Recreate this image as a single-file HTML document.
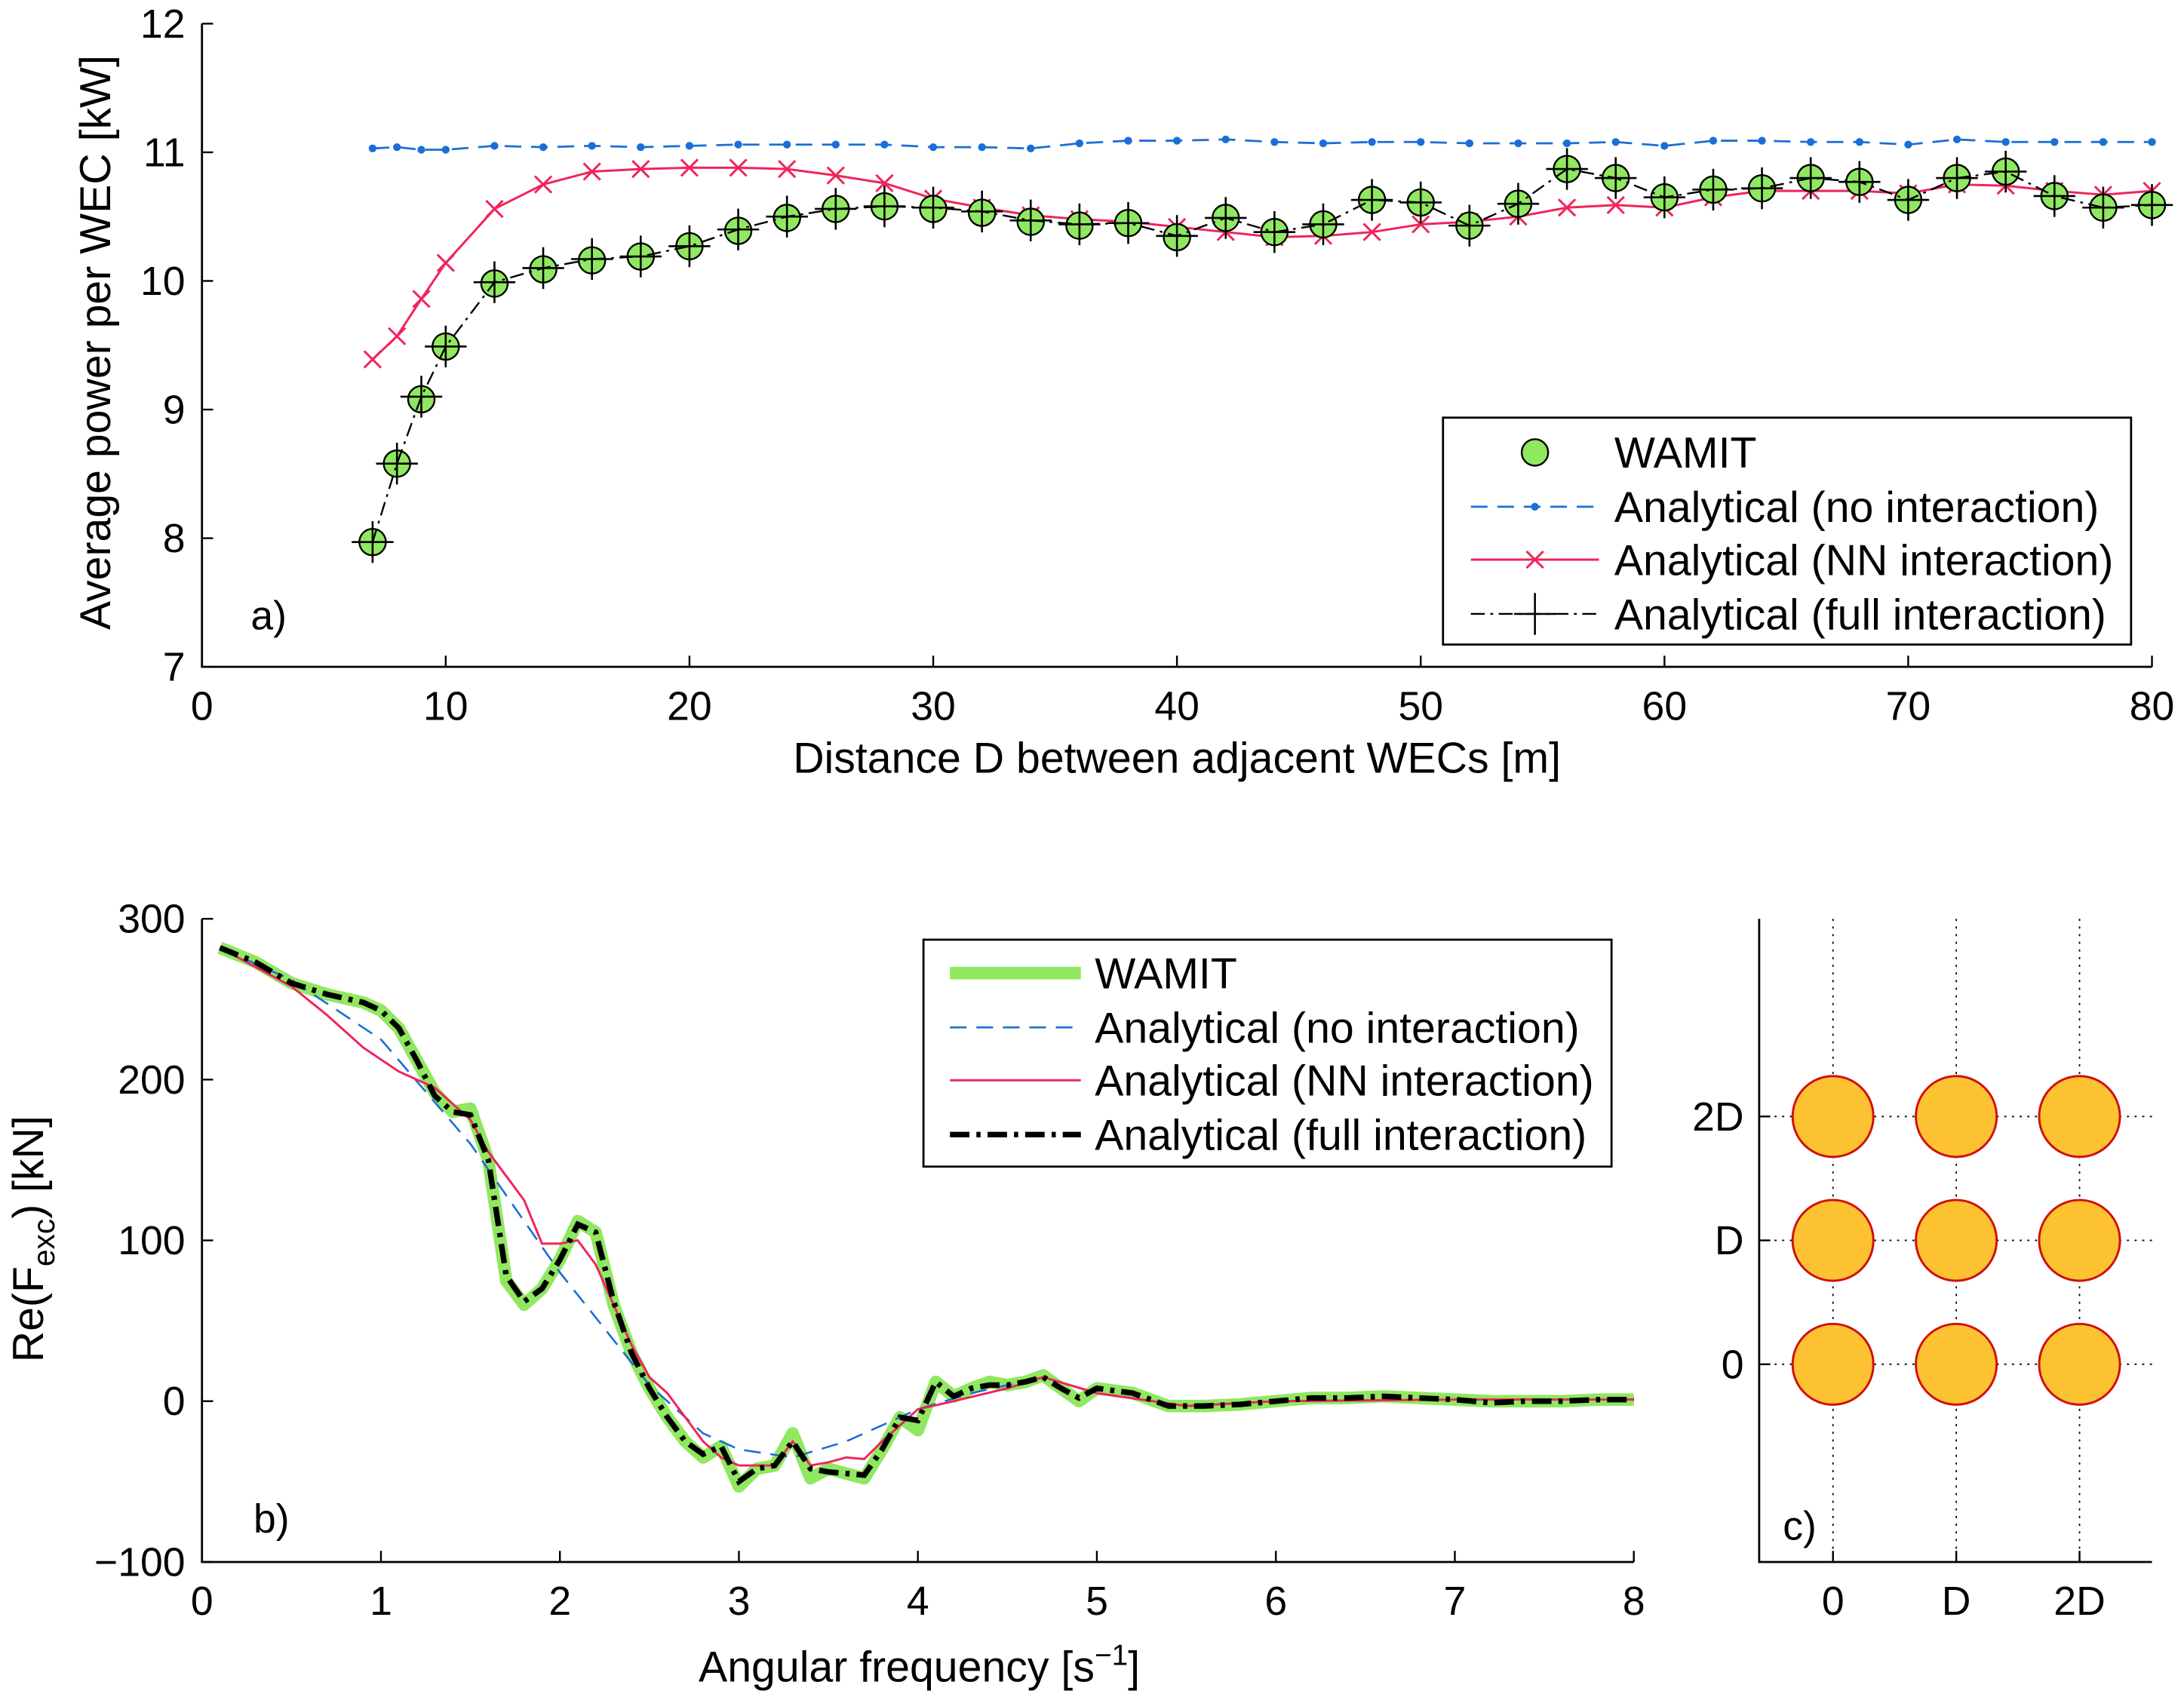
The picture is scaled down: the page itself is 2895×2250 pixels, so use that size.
<!DOCTYPE html>
<html><head><meta charset="utf-8"><style>
html,body{margin:0;padding:0;background:#fff}
svg{display:block}
text{font-family:"Liberation Sans",sans-serif;fill:#000}
</style></head><body>
<svg id="fig" width="2895" height="2250" viewBox="0 0 1568 1219" preserveAspectRatio="none" xmlns="http://www.w3.org/2000/svg">
<g id="pa"></g>
<g id="pb"></g>
<g id="pc"></g>
</svg>
<script>
// Panel a data
const aX = [7,8,9,10,12,14,16,18,20,22,24,26,28,30,32,34,36,38,40,42,44,46,48,50,52,54,56,58,60,62,64,66,68,70,72,74,76,78,80];
const aWamit = [7.97,8.58,9.08,9.49,9.98,10.09,10.16,10.19,10.27,10.39,10.49,10.56,10.58,10.56,10.53,10.46,10.43,10.45,10.34,10.49,10.38,10.44,10.63,10.61,10.43,10.60,10.87,10.80,10.65,10.71,10.72,10.80,10.77,10.63,10.80,10.85,10.66,10.57,10.59];
const aFull = [7.97,8.58,9.10,9.49,9.99,10.10,10.17,10.19,10.27,10.40,10.50,10.56,10.58,10.57,10.54,10.47,10.44,10.45,10.35,10.49,10.38,10.44,10.63,10.61,10.43,10.60,10.87,10.80,10.65,10.71,10.72,10.80,10.77,10.63,10.80,10.85,10.66,10.57,10.59];
const aNo = [11.03,11.04,11.02,11.02,11.05,11.04,11.05,11.04,11.05,11.06,11.06,11.06,11.06,11.04,11.04,11.03,11.07,11.09,11.09,11.10,11.08,11.07,11.08,11.08,11.07,11.07,11.07,11.08,11.05,11.09,11.09,11.08,11.08,11.06,11.10,11.08,11.08,11.08,11.08];
const aNN = [9.39,9.57,9.86,10.14,10.56,10.75,10.85,10.87,10.88,10.88,10.87,10.82,10.76,10.64,10.57,10.51,10.48,10.46,10.42,10.38,10.34,10.35,10.38,10.44,10.46,10.50,10.57,10.59,10.57,10.65,10.70,10.70,10.70,10.68,10.75,10.74,10.70,10.67,10.70];
const aXTicks = [0,10,20,30,40,50,60,70,80];
const aYTicks = [7,8,9,10,11,12];
// Panel b data
const bWX = [0.1,0.3,0.5,0.7,0.9,1.0,1.1,1.2,1.3,1.4,1.5,1.6,1.7,1.8,1.9,2.0,2.1,2.2,2.3,2.4,2.5,2.6,2.7,2.8,2.9,3.0,3.1,3.2,3.3,3.4,3.5,3.6,3.7,3.8,3.9,4.0,4.1,4.2,4.3,4.4,4.5,4.6,4.7,4.8,4.9,5.0,5.2,5.4,5.6,5.8,6.0,6.2,6.4,6.6,6.8,7.0,7.2,7.4,7.6,7.8,8.0];
const bWamit = [282,273,260,253,248,243,232,212,192,180,182,150,75,60,70,88,112,105,60,30,8,-10,-25,-35,-28,-53,-42,-40,-20,-48,-42,-45,-48,-30,-10,-18,12,3,8,12,10,12,16,8,0,8,5,-3,-3,-2,0,2,2,3,2,1,0,0,0,1,1];
const bFull = [282,273,260,253,248,243,232,212,190,180,178,150,78,62,70,88,110,105,62,30,8,-10,-25,-33,-28,-50,-42,-40,-25,-42,-44,-45,-46,-30,-10,-12,12,3,8,10,10,12,15,8,2,8,5,-3,-3,-2,0,2,2,3,2,1,-1,0,0,1,1];
const bNoX = [0.1,0.5,1.0,1.5,2.0,2.5,2.8,3.0,3.3,3.6,4.0,4.3,4.7,5.0,5.5,6.0,7.0,8.0];
const bNo = [282,262,225,160,80,10,-20,-30,-35,-25,-5,5,15,5,-3,0,1,1];
const bNNX = [0.1,0.5,0.7,0.9,1.1,1.3,1.5,1.6,1.7,1.8,1.9,2.0,2.1,2.2,2.3,2.4,2.5,2.6,2.7,2.8,2.9,3.0,3.2,3.3,3.4,3.5,3.6,3.7,3.8,3.9,4.0,4.2,4.5,4.7,5.0,5.5,6.0,7.0,8.0];
const bNN = [282,258,240,220,205,195,175,155,140,125,98,98,100,85,60,35,15,5,-10,-25,-35,-40,-40,-25,-40,-38,-35,-36,-25,-15,-5,0,8,15,5,-3,0,1,1];
const bXTicks = [0,1,2,3,4,5,6,7,8];
const bYTicks = [-100,0,100,200,300];
// Panel c data
const cTicks = ['0','D','2D'];
const cPos = [0,1,2];

const FT=29, FL=31;
const NS='http://www.w3.org/2000/svg';
function mk(parent,tag,attrs,txt){const e=document.createElementNS(NS,tag);for(const k in attrs)e.setAttribute(k,attrs[k]);if(txt!==undefined)e.textContent=txt;parent.appendChild(e);return e;}
function pathD(xs,ys,sx,sy){return xs.map((x,i)=>(i?'L':'M')+sx(x).toFixed(2)+','+sy(ys[i]).toFixed(2)).join('');}

// ---- Panel a ----
const pa=document.getElementById('pa');
const ax=x=>145+(x-0)*(1545-145)/80, ay=y=>479-(y-7)*(479-17)/5;
let e;
e=mk(pa,'path',{d:'M145,17V479H1545',fill:'none',stroke:'#000','stroke-width':1.5});


aXTicks.forEach(t=>{mk(pa,'line',{x1:ax(t),x2:ax(t),y1:479,y2:471,stroke:'#000','stroke-width':1.3});
 e=mk(pa,'text',{x:ax(t),y:517,'font-size':FT,'text-anchor':'middle'},t);
 
 });
aYTicks.forEach(t=>{mk(pa,'line',{x1:145,x2:153,y1:ay(t),y2:ay(t),stroke:'#000','stroke-width':1.3});
 e=mk(pa,'text',{x:133,y:ay(t)+10,'font-size':FT,'text-anchor':'end'},t);
 
 });
e=mk(pa,'text',{x:845,y:555,'font-size':FL,'text-anchor':'middle'},'Distance D between adjacent WECs [m]');


e=mk(pa,'text',{x:0,y:0,'font-size':FL,'text-anchor':'middle',transform:'translate(79,246) rotate(-90)'},'Average power per WEC [kW]');


e=mk(pa,'text',{x:180,y:452,'font-size':FT},'a)');


e=mk(pa,'path',{d:pathD(aX,aNo,ax,ay),fill:'none',stroke:'#1a6fd6','stroke-width':1.5,'stroke-dasharray':'12,7'});


aX.forEach((x,i)=>{e=mk(pa,'circle',{cx:ax(x),cy:ay(aNo[i]),r:2.8,fill:'#1a6fd6'});
 
 });
e=mk(pa,'path',{d:pathD(aX,aNN,ax,ay),fill:'none',stroke:'#f0245a','stroke-width':1.6});


aX.forEach((x,i)=>{const cx=ax(x),cy=ay(aNN[i]);
 e=mk(pa,'path',{d:`M${cx-6},${cy-6}L${cx+6},${cy+6}M${cx-6},${cy+6}L${cx+6},${cy-6}`,stroke:'#f0245a','stroke-width':1.6});
 
 });
aX.forEach((x,i)=>{e=mk(pa,'circle',{cx:ax(x),cy:ay(aWamit[i]),r:9.5,fill:'#90e860',stroke:'#000','stroke-width':1.3});
 
 });
e=mk(pa,'path',{d:pathD(aX,aFull,ax,ay),fill:'none',stroke:'#000','stroke-width':1.3,'stroke-dasharray':'10,4,2,4'});


aX.forEach((x,i)=>{const cx=ax(x),cy=ay(aFull[i]);
 e=mk(pa,'path',{d:`M${cx-15},${cy}H${cx+15}M${cx},${cy-15}V${cy+15}`,stroke:'#000','stroke-width':1.4});
 
 });
const la=mk(pa,'g',{});


mk(la,'rect',{x:1036,y:300,width:494,height:163,fill:'#fff',stroke:'#000','stroke-width':1.5});
mk(la,'circle',{cx:1102,cy:325,r:9.5,fill:'#90e860',stroke:'#000','stroke-width':1.3});
mk(la,'line',{x1:1056,x2:1148,y1:364,y2:364,stroke:'#1a6fd6','stroke-width':1.5,'stroke-dasharray':'12,7'});
mk(la,'circle',{cx:1102,cy:364,r:2.8,fill:'#1a6fd6'});
mk(la,'line',{x1:1056,x2:1148,y1:402,y2:402,stroke:'#f0245a','stroke-width':1.6});
mk(la,'path',{d:'M1096,396L1108,408M1096,408L1108,396',stroke:'#f0245a','stroke-width':1.6});
mk(la,'line',{x1:1056,x2:1148,y1:441,y2:441,stroke:'#000','stroke-width':1.3,'stroke-dasharray':'10,4,2,4'});
mk(la,'path',{d:'M1087,441H1117M1102,426V456',stroke:'#000','stroke-width':1.4});
[['WAMIT',336],['Analytical (no interaction)',375],['Analytical (NN interaction)',413],['Analytical (full interaction)',452]].forEach(([t,y])=>{
 e=mk(la,'text',{x:1159,y:y,'font-size':FL},t);
 
 });

// ---- Panel b ----
const pb=document.getElementById('pb');
const bx=x=>145+x*(1173-145)/8, by=y=>1122-(y+100)*(1122-660)/400;
e=mk(pb,'path',{d:'M145,660V1122H1173',fill:'none',stroke:'#000','stroke-width':1.5});


bXTicks.forEach(t=>{mk(pb,'line',{x1:bx(t),x2:bx(t),y1:1122,y2:1114,stroke:'#000','stroke-width':1.3});
 e=mk(pb,'text',{x:bx(t),y:1160,'font-size':FT,'text-anchor':'middle'},t);
 
 });
bYTicks.forEach(t=>{mk(pb,'line',{x1:145,x2:153,y1:by(t),y2:by(t),stroke:'#000','stroke-width':1.3});
 e=mk(pb,'text',{x:133,y:by(t)+10,'font-size':FT,'text-anchor':'end'},t<0?'\u2212'+(-t):t);
 
 });
e=mk(pb,'text',{x:660,y:1208,'font-size':FL,'text-anchor':'middle'});
e.innerHTML='Angular frequency [s<tspan font-size="21" dy="-12">\u22121</tspan><tspan dy="12">]</tspan>';


e=mk(pb,'text',{x:0,y:0,'font-size':FL,'text-anchor':'middle',transform:'translate(31,890) rotate(-90)'});
e.innerHTML='Re(F<tspan font-size="22" dy="8">exc</tspan><tspan dy="-8">) [kN]</tspan>';


e=mk(pb,'text',{x:182,y:1101,'font-size':FT},'b)');


e=mk(pb,'path',{d:pathD(bWX,bWamit,bx,by),fill:'none',stroke:'#90e860','stroke-width':9,'stroke-linejoin':'round'});


e=mk(pb,'path',{d:pathD(bNoX,bNo,bx,by),fill:'none',stroke:'#1a6fd6','stroke-width':1.4,'stroke-dasharray':'12,7'});


e=mk(pb,'path',{d:pathD(bNNX,bNN,bx,by),fill:'none',stroke:'#f0245a','stroke-width':1.6});


e=mk(pb,'path',{d:pathD(bWX,bFull,bx,by),fill:'none',stroke:'#000','stroke-width':4,'stroke-dasharray':'14,5,3,5'});


const lb=mk(pb,'g',{});


mk(lb,'rect',{x:663,y:675,width:494,height:163,fill:'#fff',stroke:'#000','stroke-width':1.5});
mk(lb,'line',{x1:682,x2:776,y1:699,y2:699,stroke:'#90e860','stroke-width':9});
mk(lb,'line',{x1:682,x2:776,y1:738,y2:738,stroke:'#1a6fd6','stroke-width':1.4,'stroke-dasharray':'12,7'});
mk(lb,'line',{x1:682,x2:776,y1:776,y2:776,stroke:'#f0245a','stroke-width':1.6});
mk(lb,'line',{x1:682,x2:776,y1:815,y2:815,stroke:'#000','stroke-width':4,'stroke-dasharray':'14,5,3,5'});
[['WAMIT',710],['Analytical (no interaction)',749],['Analytical (NN interaction)',787],['Analytical (full interaction)',826]].forEach(([t,y])=>{
 e=mk(lb,'text',{x:786,y:y,'font-size':FL},t);
 
 });

// ---- Panel c ----
const pc=document.getElementById('pc');
const cx=v=>1316+v*88.5, cy=v=>980-v*89;
e=mk(pc,'path',{d:'M1263,660V1122H1545',fill:'none',stroke:'#000','stroke-width':1.5});


cPos.forEach((p,i)=>{
 mk(pc,'line',{x1:cx(p),x2:cx(p),y1:660,y2:1122,stroke:'#000','stroke-width':1,'stroke-dasharray':'1.5,4'});
 mk(pc,'line',{x1:1263,x2:1545,y1:cy(p),y2:cy(p),stroke:'#000','stroke-width':1,'stroke-dasharray':'1.5,4'});
 mk(pc,'line',{x1:cx(p),x2:cx(p),y1:1122,y2:1114,stroke:'#000','stroke-width':1.3});
 mk(pc,'line',{x1:1263,x2:1271,y1:cy(p),y2:cy(p),stroke:'#000','stroke-width':1.3});
 e=mk(pc,'text',{x:cx(p),y:1160,'font-size':FT,'text-anchor':'middle'},cTicks[i]);
 
 
 e=mk(pc,'text',{x:1252,y:cy(p)+10,'font-size':FT,'text-anchor':'end'},cTicks[i]);
 
 
});
cPos.forEach(px=>cPos.forEach(py=>{
 e=mk(pc,'circle',{cx:cx(px),cy:cy(py),r:29,fill:'#fcc232',stroke:'#d01010','stroke-width':1.6});
 
 
}));
e=mk(pc,'text',{x:1280,y:1106,'font-size':FT},'c)');


</script>
</body></html>
